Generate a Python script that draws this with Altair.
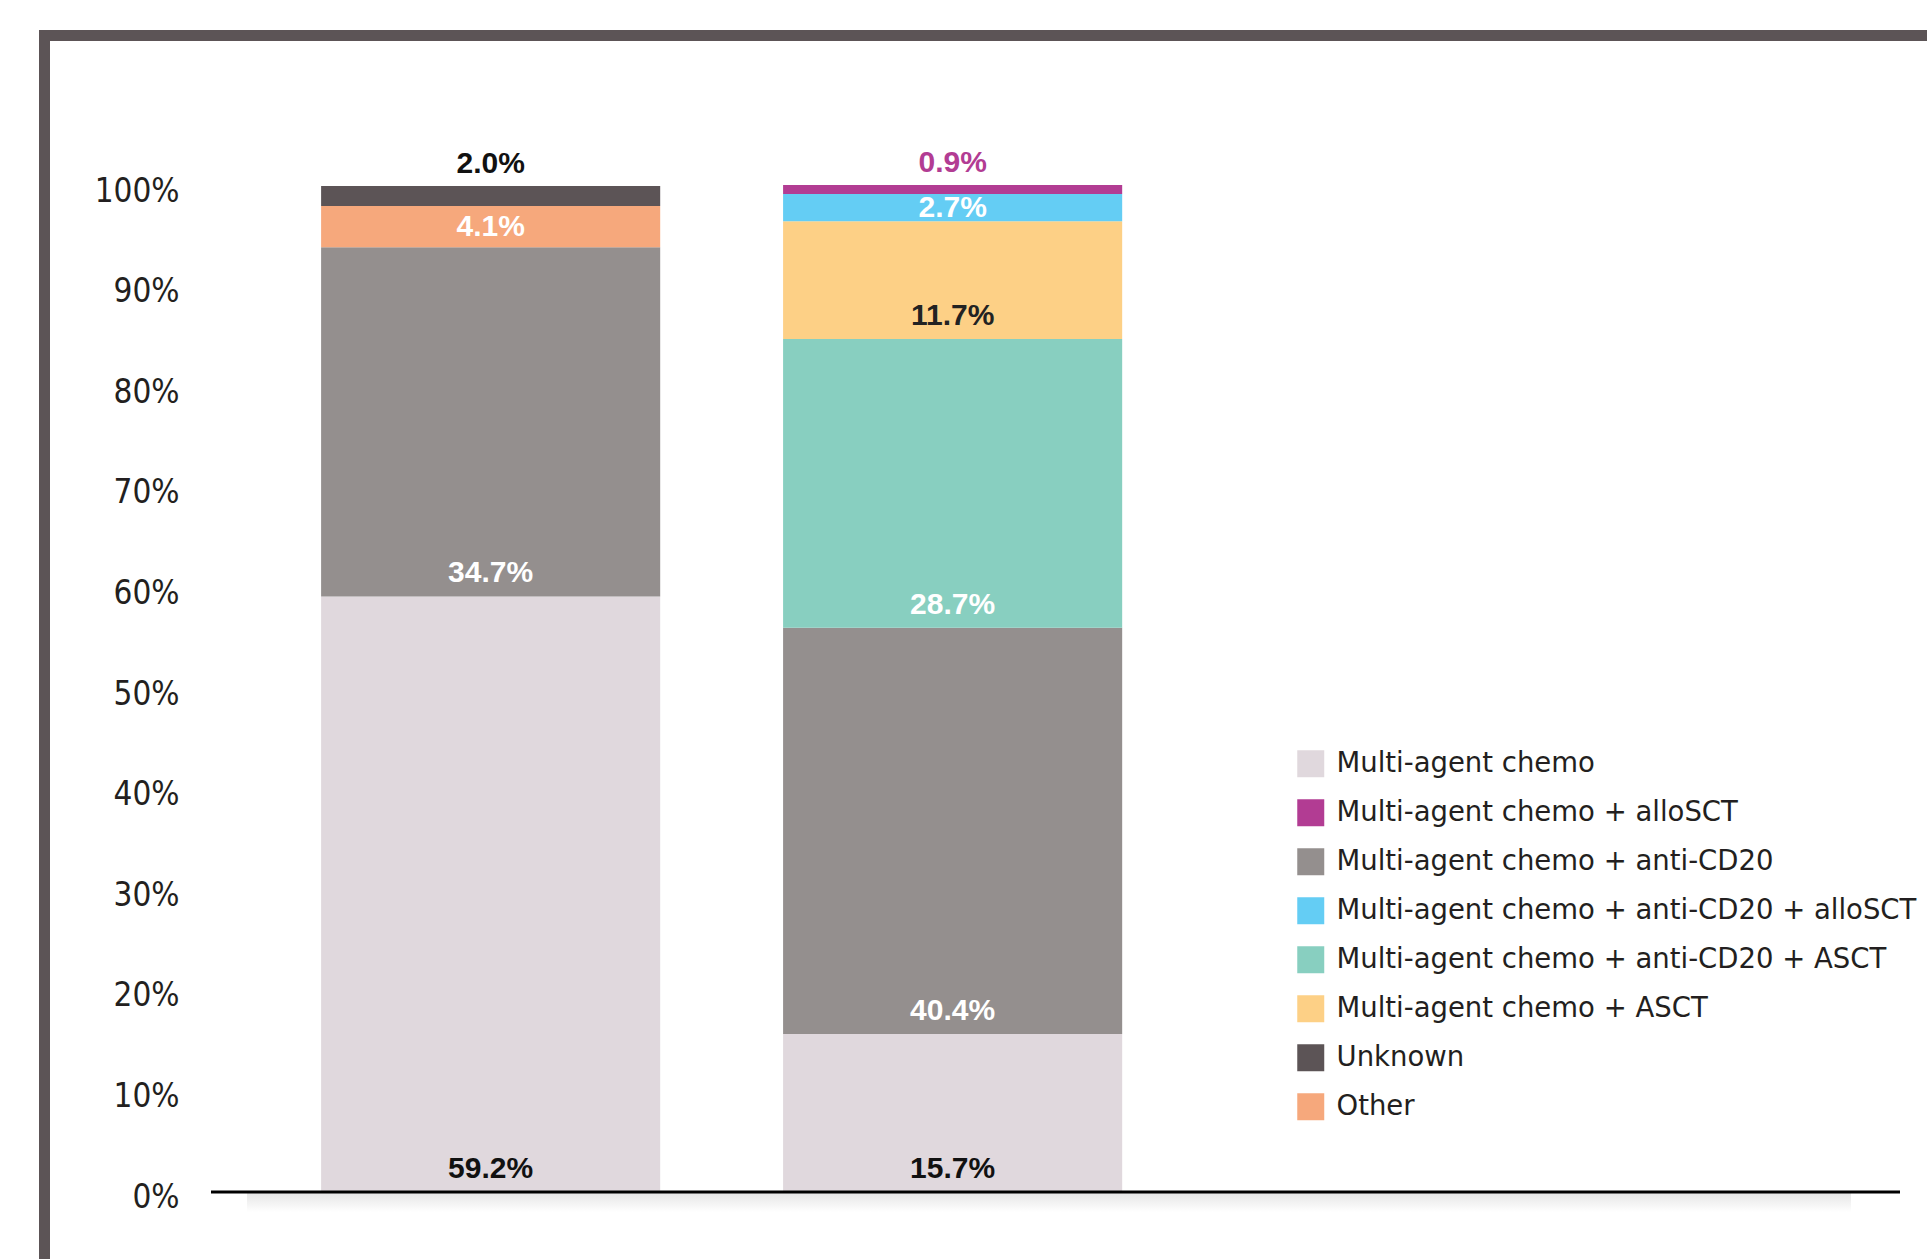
import altair as alt
import pandas as pd

# ---- data ----
bars = ["Cohort 1", "Cohort 2"]
categories = [
    "Multi-agent chemo",
    "Multi-agent chemo + alloSCT",
    "Multi-agent chemo + anti-CD20",
    "Multi-agent chemo + anti-CD20 + alloSCT",
    "Multi-agent chemo + anti-CD20 + ASCT",
    "Multi-agent chemo + ASCT",
    "Unknown",
    "Other",
]
cat_colors = ["#e0d8dd", "#b23c93", "#948f8e", "#64cdf4", "#88cfc0", "#fdd086", "#5c5456", "#f6a87c"]
label_colors = ["#111111", "#b23c93", "#ffffff", "#ffffff", "#ffffff", "#222222", "#111111", "#ffffff"]

bar1_cats = ["Multi-agent chemo", "Multi-agent chemo + anti-CD20", "Other", "Unknown"]
bar1_vals = [59.2, 34.7, 4.1, 2.0]
bar2_cats = ["Multi-agent chemo", "Multi-agent chemo + anti-CD20",
             "Multi-agent chemo + anti-CD20 + ASCT", "Multi-agent chemo + ASCT",
             "Multi-agent chemo + anti-CD20 + alloSCT", "Multi-agent chemo + alloSCT"]
bar2_vals = [15.7, 40.4, 28.7, 11.7, 2.7, 0.9]
y_ticks = [0, 10, 20, 30, 40, 50, 60, 70, 80, 90, 100]

# ---- table ----
rows = []
for bar, cats, vals in [(bars[0], bar1_cats, bar1_vals), (bars[1], bar2_cats, bar2_vals)]:
    cum = 0.0
    for i, (c, v) in enumerate(zip(cats, vals)):
        start, end = cum, cum + v
        cum = end
        if i == len(cats) - 1:
            place, ly = "above", end
        elif v < 5:
            place, ly = "mid", (start + end) / 2
        else:
            place, ly = "bottom", start
        rows.append(dict(bar=bar, cat=c, start=start, end=end, label=f"{v:.1f}%",
                         place=place, ly=ly,
                         lcolor=label_colors[categories.index(c)]))
df = pd.DataFrame(rows)

W, H = 1689, 1006
xscale = alt.Scale(domain=bars, paddingInner=0.266, paddingOuter=0.961, align=0.124)
yscale = alt.Scale(domain=[0, 100], nice=False, zero=True)

base = alt.Chart(df)

bars_layer = base.mark_bar(stroke=None).encode(
    x=alt.X("bar:N", scale=xscale, axis=None, sort=bars),
    y=alt.Y("start:Q", scale=yscale,
            axis=alt.Axis(values=y_ticks, labelExpr="datum.value + '%'", title=None,
                          domain=False, ticks=False, grid=False, labelPadding=32,
                          labelFont="Liberation Sans Narrow, DejaVu Sans Condensed, Roboto",
                          labelFontSize=33, labelOffset=5,
                          labelColor="#231f20")),
    y2="end:Q",
    color=alt.Color("cat:N", scale=alt.Scale(domain=categories, range=cat_colors),
                    legend=alt.Legend(title=None, orient="none", legendX=1086, legendY=564,
                                      symbolType="square", symbolSize=729, symbolStrokeWidth=0,
                                      symbolOpacity=1, labelFont="DejaVu Sans", labelFontSize=27.5,
                                      labelColor="#231f20", rowPadding=20, labelOffset=12,
                                      labelLimit=0, padding=0)),
)

def text_layer(place, dy):
    return base.transform_filter(alt.datum.place == place).mark_text(
        font="Liberation Sans", fontWeight="bold", fontSize=30, baseline="middle", dy=dy
    ).encode(
        x=alt.X("bar:N", scale=xscale, sort=bars),
        y=alt.Y("ly:Q", scale=yscale),
        text="label:N",
        color=alt.Color("lcolor:N", scale=None),
    )

one = pd.DataFrame({"v": [0]})
shadow = alt.Chart(one).mark_rect(
    color=alt.Gradient(gradient="linear", x1=0, y1=0, x2=0, y2=1,
                       stops=[alt.GradientStop(color="#e4e4e4", offset=0),
                              alt.GradientStop(color="#ffffff", offset=1)])
).encode(y=alt.Y("v:Q", scale=yscale), y2=alt.value(H + 20), x=alt.value(36), x2=alt.value(1640))
baseline = alt.Chart(one).mark_rule(color="#000000", strokeWidth=3).encode(
    y=alt.Y("v:Q", scale=yscale), x=alt.value(0), x2=alt.value(W)
)
frame_left = alt.Chart(one).mark_rule(color="#5c5456", strokeWidth=11).encode(
    x=alt.value(-166.5), y=alt.value(-156), y2=alt.value(1073)
)
frame_top = alt.Chart(one).mark_rule(color="#5c5456", strokeWidth=11).encode(
    y=alt.value(-150.5), x=alt.value(-172), x2=alt.value(1716)
)

chart = alt.layer(
    frame_left, frame_top, shadow, bars_layer,
    text_layer("bottom", -23), text_layer("mid", 0), text_layer("above", -22),
    baseline,
).properties(
    width=W, height=H,
    autosize=alt.AutoSizeParams(type="none"),
    padding={"left": 211, "top": 186, "right": 27, "bottom": 67},
    background="white",
).configure_view(stroke=None)

chart.save("out.html", embed_options={"renderer": "svg", "actions": False})
